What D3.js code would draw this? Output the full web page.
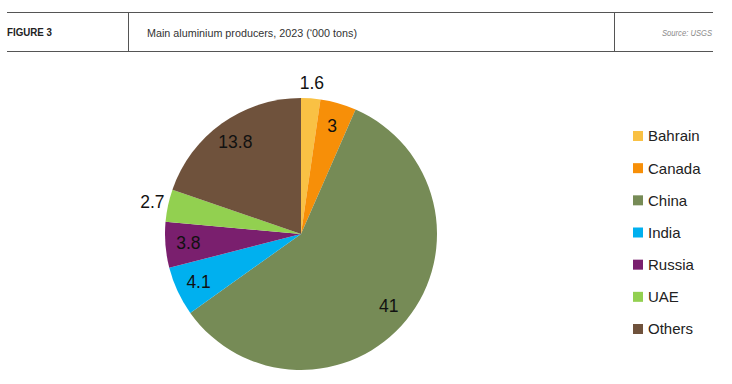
<!DOCTYPE html>
<html><head><meta charset="utf-8">
<script src="https://cdn.jsdelivr.net/npm/d3@7"></script>
<style>body{margin:0;background:#fff}svg{display:block}</style>
</head><body>
<svg id="c" width="732" height="384"></svg>
<script>
const categories = ["Bahrain","Canada","China","India","Russia","UAE","Others"];
const values = [1.6, 3, 41, 4.1, 3.8, 2.7, 13.8];
const labels = ["1.6","3","41","4.1","3.8","2.7","13.8"];
const colors = ["#F9C144","#F78F08","#768B56","#00B0EF","#7A1F6E","#92D050","#6F523C"];
const figureLabel = "FIGURE 3";
const title = "Main aluminium producers, 2023 (\u2018000 tons)";
const source = "Source: USGS";

const svg = d3.select("#c");
const hf = "'Liberation Sans',Arial,sans-serif";

// header
svg.append("line").attr("x1",7).attr("x2",713).attr("y1",12.5).attr("y2",12.5).attr("stroke","#555").attr("stroke-width",1);
svg.append("line").attr("x1",7).attr("x2",713).attr("y1",51.5).attr("y2",51.5).attr("stroke","#555").attr("stroke-width",1);
svg.append("line").attr("x1",128.5).attr("x2",128.5).attr("y1",12).attr("y2",52).attr("stroke","#555").attr("stroke-width",1);
svg.append("line").attr("x1",614.5).attr("x2",614.5).attr("y1",12).attr("y2",52).attr("stroke","#555").attr("stroke-width",1);
svg.append("text").attr("x",7).attr("y",35.5).attr("font-family",hf).attr("font-weight","bold").attr("font-size",10.5)
  .attr("textLength",45).attr("lengthAdjust","spacingAndGlyphs").attr("fill","#222").text(figureLabel);
svg.append("text").attr("x",147).attr("y",36.5).attr("font-family",hf).attr("font-size",11.5)
  .attr("textLength",210).attr("lengthAdjust","spacingAndGlyphs").attr("fill","#333").text(title);
svg.append("text").attr("x",662).attr("y",35.5).attr("font-family",hf).attr("font-style","italic").attr("font-size",8.5)
  .attr("textLength",50).attr("lengthAdjust","spacingAndGlyphs").attr("fill","#8a8a8a").text(source);

// pie
const cx = 301, cy = 234, R = 136;
const data = categories.map((c,i)=>({name:c,value:values[i],label:labels[i],color:colors[i]}));
const pie = d3.pie().sort(null).value(d=>d.value).startAngle(0).endAngle(2*Math.PI);
const arcs = pie(data);
const arc = d3.arc().innerRadius(0).outerRadius(R);
const g = svg.append("g").attr("transform",`translate(${cx},${cy})`);
g.selectAll("path").data(arcs).join("path").attr("d",arc).attr("fill",d=>d.data.color);

const inArc = d3.arc().innerRadius(113).outerRadius(113);
const outArc = d3.arc().innerRadius(152).outerRadius(152);
g.selectAll("text.lbl").data(arcs).join("text").attr("class","lbl")
  .attr("transform",d=>{const p=(d.data.value<2.8?outArc:inArc).centroid(d);return `translate(${p[0]},${p[1]})`;})
  .attr("text-anchor","middle").attr("dy","0.36em")
  .attr("font-family",hf).attr("font-size",17.5).attr("fill","#111")
  .text(d=>d.data.label);

// legend
const lg = svg.append("g");
const ly = d3.scalePoint().domain(categories).range([136,329]);
categories.forEach((c,i)=>{
  lg.append("rect").attr("x",633).attr("y",ly(c)-5).attr("width",10).attr("height",10).attr("fill",colors[i]);
  lg.append("text").attr("x",648).attr("y",ly(c)).attr("dy","0.36em")
    .attr("font-family",hf).attr("font-size",15).attr("fill","#222").text(c);
});
</script>
</body></html>
